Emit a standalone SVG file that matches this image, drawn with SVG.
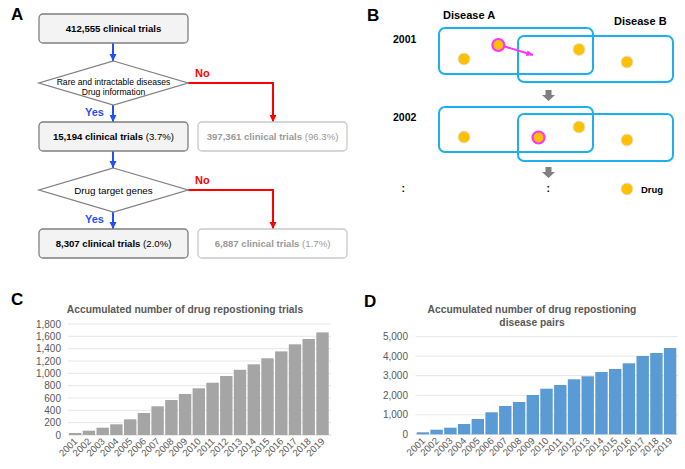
<svg xmlns="http://www.w3.org/2000/svg" width="685" height="469" viewBox="0 0 685 469">
<style>
text{font-family:"Liberation Sans",Arial,sans-serif}
.pl{font-size:17px;font-weight:bold;fill:#000}
.box{fill:#f3f3f3;stroke:#7f7f7f;stroke-width:1.3}
.gbox{fill:#fff;stroke:#c9c9c9;stroke-width:1.3}
.dia{fill:#fff;stroke:#808080;stroke-width:1.3}
.bt{font-size:9.6px;fill:#000;text-anchor:middle}
.gt{font-size:9.6px;fill:#9a9a9a;text-anchor:middle}
.b{font-weight:bold}
.dt{font-size:8.6px;fill:#000;text-anchor:middle}
.yes{font-size:11px;font-weight:bold;fill:#1f4fff}
.no{font-size:11px;font-weight:bold;fill:#ff0000}
.blue{stroke:#1f4fff;stroke-width:2;fill:none}
.red{stroke:#ff0000;stroke-width:2;fill:none}
.dis{fill:none;stroke:#1cb0ec;stroke-width:2}
.drug{fill:#ffc000;stroke:#e2e2e2;stroke-width:1}
.mdrug{fill:#ffc000;stroke:#ff33ff;stroke-width:2.2}
.lbl{font-size:10.5px;font-weight:bold;fill:#000}
.ttl{font-size:10.3px;font-weight:bold;fill:#595959;text-anchor:middle}
.grid{stroke:#e6e6e6;stroke-width:1}
.ax{stroke:#d9d9d9;stroke-width:1}
.yl{font-size:10px;fill:#595959;text-anchor:end}
.xl{font-size:9.6px;fill:#595959;text-anchor:end}
.gbar{fill:#a5a5a5}
.bbar{fill:#5b9bd5}
.garrow{fill:#7f7f7f}
</style>
<defs>
<marker id="ab" markerUnits="userSpaceOnUse" markerWidth="8" markerHeight="8" refX="7" refY="3.5" orient="auto"><path d="M0,0 L7,3.5 L0,7 Z" fill="#1f4fff"/></marker>
<marker id="ar" markerUnits="userSpaceOnUse" markerWidth="8" markerHeight="8" refX="7" refY="3.5" orient="auto"><path d="M0,0 L7,3.5 L0,7 Z" fill="#ff0000"/></marker>
<marker id="am" markerUnits="userSpaceOnUse" markerWidth="8" markerHeight="8" refX="6.5" refY="3" orient="auto"><path d="M0,0 L6.5,3 L0,6 Z" fill="#ff33ff"/></marker>
</defs>

<!-- Panel labels -->
<text class="pl" x="11" y="20">A</text>
<text class="pl" x="367" y="21">B</text>
<text class="pl" x="11" y="305">C</text>
<text class="pl" x="364" y="307">D</text>

<!-- Panel A connectors -->
<g id="connectors-A">
<line class="blue" x1="113" y1="43" x2="113" y2="61" marker-end="url(#ab)"/>
<line class="blue" x1="113" y1="105" x2="113" y2="122" marker-end="url(#ab)"/>
<line class="blue" x1="113" y1="151" x2="113" y2="168" marker-end="url(#ab)"/>
<line class="blue" x1="113" y1="212" x2="113" y2="229" marker-end="url(#ab)"/>
<path class="red" d="M188,83 H273 V122" marker-end="url(#ar)"/>
<path class="red" d="M188,190 H273 V229" marker-end="url(#ar)"/>
<text class="yes" x="85" y="116">Yes</text>
<text class="no" x="195" y="77">No</text>
<text class="yes" x="85" y="223">Yes</text>
<text class="no" x="195" y="184">No</text>
</g>

<g id="n-total">
<rect class="box" x="39" y="14" width="149" height="29" rx="4"/>
<text class="bt b" x="113.5" y="32">412,555 clinical trials</text>
</g>
<g id="n-dec1">
<polygon class="dia" points="113.5,61 188,83 113.5,105 39,83"/>
<text class="dt" x="113.5" y="84.5">Rare and intractable diseases</text>
<text class="dt" x="113.5" y="95">Drug information</text>
</g>
<g id="n-15194">
<rect class="box" x="39" y="122" width="149" height="29" rx="4"/>
<text class="bt" x="113.5" y="140"><tspan class="b">15,194 clinical trials</tspan> (3.7%)</text>
</g>
<g id="n-397361">
<rect class="gbox" x="198" y="122" width="149" height="29" rx="4"/>
<text class="gt" x="272.5" y="140"><tspan class="b">397,361 clinical trials</tspan> (96.3%)</text>
</g>
<g id="n-dec2">
<polygon class="dia" points="113.5,168 188,190 113.5,212 39,190"/>
<text class="dt" style="font-size:9.8px" x="113.5" y="194">Drug target genes</text>
</g>
<g id="n-8307">
<rect class="box" x="39" y="229" width="149" height="29" rx="4"/>
<text class="bt" x="113.5" y="247"><tspan class="b">8,307 clinical trials</tspan> (2.0%)</text>
</g>
<g id="n-6887">
<rect class="gbox" x="198" y="229" width="149" height="29" rx="4"/>
<text class="gt" x="272.5" y="247"><tspan class="b">6,887 clinical trials</tspan> (1.7%)</text>
</g>

<!-- Panel B -->
<g id="panel-B">
<text class="lbl" style="font-size:11px" x="443" y="19">Disease A</text>
<text class="lbl" style="font-size:11px" x="614" y="25">Disease B</text>
<text class="lbl" x="393" y="42.5">2001</text>
<text class="lbl" x="393" y="120.5">2002</text>
<g id="y2001">
<rect class="dis" x="439" y="28" width="154" height="46" rx="6"/>
<rect class="dis" x="518" y="36" width="155" height="46" rx="6"/>
<circle class="drug" cx="464" cy="59" r="6"/>
<circle class="mdrug" cx="498.3" cy="45" r="6"/>
<circle class="drug" cx="579" cy="49.5" r="6"/>
<circle class="drug" cx="627" cy="62" r="6"/>
<line x1="504.5" y1="46.5" x2="533" y2="55" stroke="#ff33ff" stroke-width="2" marker-end="url(#am)"/>
</g>
<polygon class="garrow" points="545.5,90 551.5,90 551.5,95 555,95 548.5,101 542,95 545.5,95"/>
<g id="y2002">
<rect class="dis" x="439" y="107" width="154" height="45" rx="6"/>
<rect class="dis" x="518" y="114" width="155" height="47" rx="6"/>
<circle class="drug" cx="464" cy="137" r="6"/>
<circle class="mdrug" cx="538.5" cy="137.5" r="6"/>
<circle class="drug" cx="579" cy="127" r="6"/>
<circle class="drug" cx="627" cy="140" r="6"/>
</g>
<polygon class="garrow" points="545.5,167 551.5,167 551.5,172 555,172 548.5,178 542,172 545.5,172"/>
<text class="lbl" x="401.5" y="192">:</text>
<text class="lbl" x="546.5" y="192">:</text>
<g id="legend">
<circle class="drug" cx="627" cy="189" r="6"/>
<text class="lbl" style="font-size:9.5px" x="641" y="193">Drug</text>
</g>
</g>

<!-- Panel C -->
<g id="chart-C">
<text class="ttl" x="185" y="313">Accumulated number of drug repostioning trials</text>
<g>
<line class="grid" x1="68" y1="324" x2="331" y2="324"/>
<line class="grid" x1="68" y1="336.3" x2="331" y2="336.3"/>
<line class="grid" x1="68" y1="348.7" x2="331" y2="348.7"/>
<line class="grid" x1="68" y1="361" x2="331" y2="361"/>
<line class="grid" x1="68" y1="373.3" x2="331" y2="373.3"/>
<line class="grid" x1="68" y1="385.7" x2="331" y2="385.7"/>
<line class="grid" x1="68" y1="398" x2="331" y2="398"/>
<line class="grid" x1="68" y1="410.3" x2="331" y2="410.3"/>
<line class="grid" x1="68" y1="422.7" x2="331" y2="422.7"/>
<line class="ax" x1="68" y1="435" x2="331" y2="435"/>
</g>
<g>
<text class="yl" x="61" y="327.5">1,800</text>
<text class="yl" x="61" y="339.8">1,600</text>
<text class="yl" x="61" y="352.2">1,400</text>
<text class="yl" x="61" y="364.5">1,200</text>
<text class="yl" x="61" y="376.8">1,000</text>
<text class="yl" x="61" y="389.2">800</text>
<text class="yl" x="61" y="401.5">600</text>
<text class="yl" x="61" y="413.8">400</text>
<text class="yl" x="61" y="426.2">200</text>
<text class="yl" x="61" y="438.5">0</text>
</g>
<g>
<rect class="gbar" x="69" y="433" width="12.4" height="2"/>
<rect class="gbar" x="82.7" y="430.7" width="12.4" height="4.3"/>
<rect class="gbar" x="96.5" y="427.7" width="12.4" height="7.3"/>
<rect class="gbar" x="110.2" y="424.3" width="12.4" height="10.7"/>
<rect class="gbar" x="124" y="419.3" width="12.4" height="15.7"/>
<rect class="gbar" x="137.7" y="413" width="12.4" height="22"/>
<rect class="gbar" x="151.4" y="406.3" width="12.4" height="28.7"/>
<rect class="gbar" x="165.2" y="400" width="12.4" height="35"/>
<rect class="gbar" x="178.9" y="394" width="12.4" height="41"/>
<rect class="gbar" x="192.6" y="388.3" width="12.4" height="46.7"/>
<rect class="gbar" x="206.4" y="382.7" width="12.4" height="52.3"/>
<rect class="gbar" x="220.1" y="376" width="12.4" height="59"/>
<rect class="gbar" x="233.8" y="369.8" width="12.4" height="65.2"/>
<rect class="gbar" x="247.6" y="364.3" width="12.4" height="70.7"/>
<rect class="gbar" x="261.3" y="358.3" width="12.4" height="76.7"/>
<rect class="gbar" x="275.1" y="351.4" width="12.4" height="83.6"/>
<rect class="gbar" x="288.8" y="344.3" width="12.4" height="90.7"/>
<rect class="gbar" x="302.5" y="339" width="12.4" height="96"/>
<rect class="gbar" x="316.3" y="332.4" width="12.4" height="102.6"/>
</g>
<g>
<text class="xl" transform="translate(78,442) rotate(-45)">2001</text>
<text class="xl" transform="translate(91.7,442) rotate(-45)">2002</text>
<text class="xl" transform="translate(105.5,442) rotate(-45)">2003</text>
<text class="xl" transform="translate(119.2,442) rotate(-45)">2004</text>
<text class="xl" transform="translate(133,442) rotate(-45)">2005</text>
<text class="xl" transform="translate(146.7,442) rotate(-45)">2006</text>
<text class="xl" transform="translate(160.4,442) rotate(-45)">2007</text>
<text class="xl" transform="translate(174.2,442) rotate(-45)">2008</text>
<text class="xl" transform="translate(187.9,442) rotate(-45)">2009</text>
<text class="xl" transform="translate(201.6,442) rotate(-45)">2010</text>
<text class="xl" transform="translate(215.4,442) rotate(-45)">2011</text>
<text class="xl" transform="translate(229.1,442) rotate(-45)">2012</text>
<text class="xl" transform="translate(242.8,442) rotate(-45)">2013</text>
<text class="xl" transform="translate(256.6,442) rotate(-45)">2014</text>
<text class="xl" transform="translate(270.3,442) rotate(-45)">2015</text>
<text class="xl" transform="translate(284.1,442) rotate(-45)">2016</text>
<text class="xl" transform="translate(297.8,442) rotate(-45)">2017</text>
<text class="xl" transform="translate(311.5,442) rotate(-45)">2018</text>
<text class="xl" transform="translate(325.3,442) rotate(-45)">2019</text>
</g>
</g>

<!-- Panel D -->
<g id="chart-D">
<text class="ttl" x="532" y="313">Accumulated number of drug repostioning</text>
<text class="ttl" x="532" y="325.5">disease pairs</text>
<g>
<line class="grid" x1="415.5" y1="336.7" x2="678" y2="336.7"/>
<line class="grid" x1="415.5" y1="356.2" x2="678" y2="356.2"/>
<line class="grid" x1="415.5" y1="375.7" x2="678" y2="375.7"/>
<line class="grid" x1="415.5" y1="395.3" x2="678" y2="395.3"/>
<line class="grid" x1="415.5" y1="414.8" x2="678" y2="414.8"/>
<line class="ax" x1="415.5" y1="434.3" x2="678" y2="434.3"/>
</g>
<g>
<text class="yl" x="408" y="340.2">5,000</text>
<text class="yl" x="408" y="359.7">4,000</text>
<text class="yl" x="408" y="379.2">3,000</text>
<text class="yl" x="408" y="398.8">2,000</text>
<text class="yl" x="408" y="418.3">1,000</text>
<text class="yl" x="408" y="437.8">0</text>
</g>
<g>
<rect class="bbar" x="416.7" y="432.3" width="12.4" height="2"/>
<rect class="bbar" x="430.4" y="429.7" width="12.4" height="4.6"/>
<rect class="bbar" x="444.2" y="427.7" width="12.4" height="6.6"/>
<rect class="bbar" x="457.9" y="424" width="12.4" height="10.3"/>
<rect class="bbar" x="471.6" y="419" width="12.4" height="15.3"/>
<rect class="bbar" x="485.4" y="412.3" width="12.4" height="22"/>
<rect class="bbar" x="499.1" y="406" width="12.4" height="28.3"/>
<rect class="bbar" x="512.9" y="402" width="12.4" height="32.3"/>
<rect class="bbar" x="526.6" y="395" width="12.4" height="39.3"/>
<rect class="bbar" x="540.3" y="388.7" width="12.4" height="45.6"/>
<rect class="bbar" x="554.1" y="385" width="12.4" height="49.3"/>
<rect class="bbar" x="567.8" y="379.3" width="12.4" height="55"/>
<rect class="bbar" x="581.5" y="376.3" width="12.4" height="58"/>
<rect class="bbar" x="595.3" y="372" width="12.4" height="62.3"/>
<rect class="bbar" x="609" y="369" width="12.4" height="65.3"/>
<rect class="bbar" x="622.7" y="363.3" width="12.4" height="71"/>
<rect class="bbar" x="636.5" y="356" width="12.4" height="78.3"/>
<rect class="bbar" x="650.2" y="353" width="12.4" height="81.3"/>
<rect class="bbar" x="663.9" y="348" width="12.4" height="86.3"/>
</g>
<g>
<text class="xl" transform="translate(425.7,441.5) rotate(-45)">2001</text>
<text class="xl" transform="translate(439.4,441.5) rotate(-45)">2002</text>
<text class="xl" transform="translate(453.2,441.5) rotate(-45)">2003</text>
<text class="xl" transform="translate(466.9,441.5) rotate(-45)">2004</text>
<text class="xl" transform="translate(480.6,441.5) rotate(-45)">2005</text>
<text class="xl" transform="translate(494.4,441.5) rotate(-45)">2006</text>
<text class="xl" transform="translate(508.1,441.5) rotate(-45)">2007</text>
<text class="xl" transform="translate(521.9,441.5) rotate(-45)">2008</text>
<text class="xl" transform="translate(535.6,441.5) rotate(-45)">2009</text>
<text class="xl" transform="translate(549.3,441.5) rotate(-45)">2010</text>
<text class="xl" transform="translate(563.1,441.5) rotate(-45)">2011</text>
<text class="xl" transform="translate(576.8,441.5) rotate(-45)">2012</text>
<text class="xl" transform="translate(590.5,441.5) rotate(-45)">2013</text>
<text class="xl" transform="translate(604.3,441.5) rotate(-45)">2014</text>
<text class="xl" transform="translate(618,441.5) rotate(-45)">2015</text>
<text class="xl" transform="translate(631.7,441.5) rotate(-45)">2016</text>
<text class="xl" transform="translate(645.5,441.5) rotate(-45)">2017</text>
<text class="xl" transform="translate(659.2,441.5) rotate(-45)">2018</text>
<text class="xl" transform="translate(672.9,441.5) rotate(-45)">2019</text>
</g>
</g>
</svg>
